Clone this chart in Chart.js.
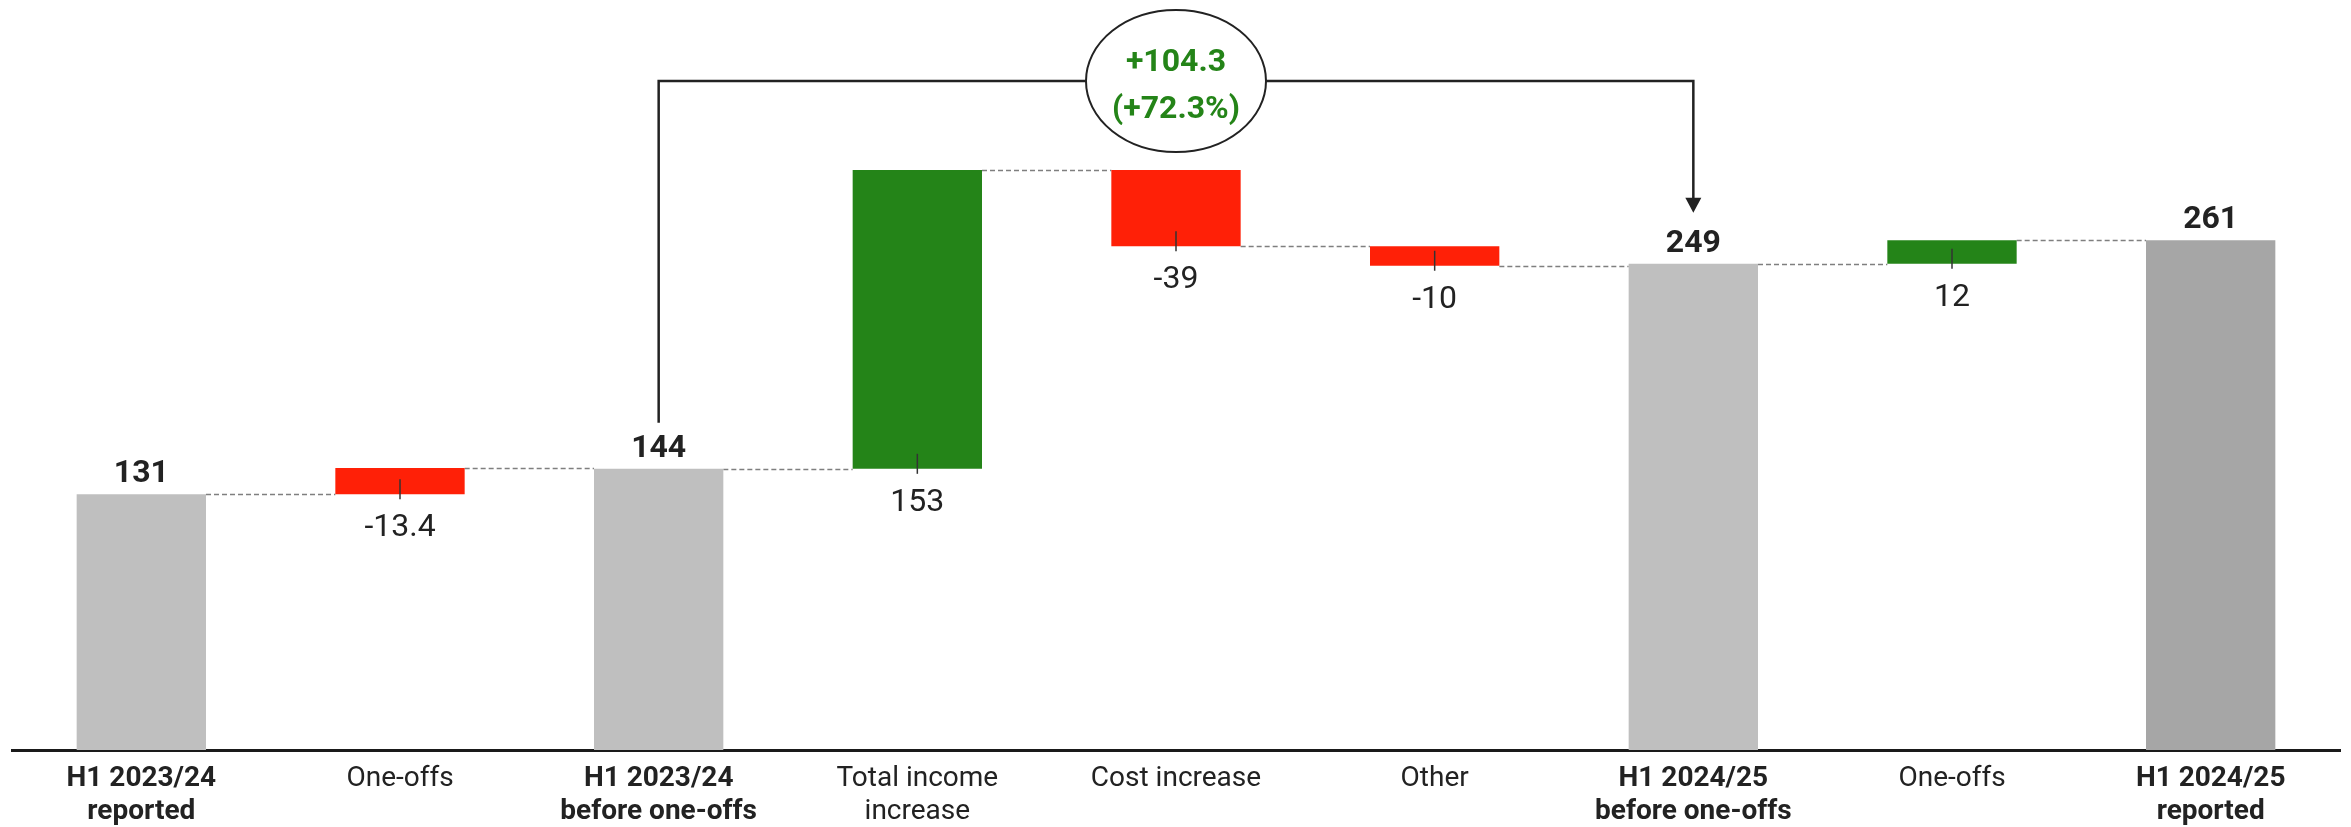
<!DOCTYPE html>
<html>
<head>
<meta charset="utf-8">
<script src="https://cdn.jsdelivr.net/npm/chart.js@4/dist/chart.umd.min.js"></script>
<style>
  html, body { margin: 0; padding: 0; background: #ffffff; }
  #wrap { width: 2351px; height: 827px; }
</style>
</head>
<body>
<div id="wrap"><canvas id="bridge" width="2351" height="827"></canvas></div>
<script>
// Bridge from H1 2023/24 to H1 2024/25
const categories = [
  ['H1 2023/24', 'reported'],
  'One-offs',
  ['H1 2023/24', 'before one-offs'],
  ['Total income', 'increase'],
  'Cost increase',
  'Other',
  ['H1 2024/25', 'before one-offs'],
  'One-offs',
  ['H1 2024/25', 'reported']
];
const barKinds = ['total', 'delta', 'total', 'delta', 'delta', 'delta', 'total', 'delta', 'total'];
const barValues = [131, -13.4, 144, 153, -39, -10, 249, 12, 261];
// the first one-offs are taken back out when going from "reported" to "before one-offs"
const reversesTotal = [false, true, false, false, false, false, false, false, false];
const bracketFrom = 2;
const bracketTo = 6;
const bracketText = ['+104.3', '(+72.3%)'];

const COLORS = {
  total: '#bfbfbf',
  finalTotal: '#a6a6a6',
  up: '#248418',
  down: '#ff2007',
  text: '#222222',
  connector: '#7f7f7f'
};
const FONT = 'Roboto, "Noto Sans", sans-serif';

// floating [start, end] ranges from a running total
let running = 0;
const ranges = barValues.map((v, i) => {
  if (barKinds[i] === 'total') { running = v; return [0, v]; }
  const start = running;
  running = start + (reversesTotal[i] ? -v : v);
  return [start, running];
});
const barColors = barValues.map((v, i) => {
  if (barKinds[i] === 'total') return i === barValues.length - 1 ? COLORS.finalTotal : COLORS.total;
  return v < 0 ? COLORS.down : COLORS.up;
});

const bridgePlugin = {
  id: 'bridgeDecor',
  beforeDatasetsDraw(chart) {
    const ctx = chart.ctx;
    const meta = chart.getDatasetMeta(0);
    const y = chart.scales.y;
    ctx.save();
    ctx.strokeStyle = COLORS.connector;
    ctx.lineWidth = 1.5;
    ctx.setLineDash([5, 3]);
    for (let i = 0; i < meta.data.length - 1; i++) {
      const a = meta.data[i], b = meta.data[i + 1];
      const py = Math.round(y.getPixelForValue(ranges[i][1])) + 0.5;
      ctx.beginPath();
      ctx.moveTo(a.x + a.width / 2, py);
      ctx.lineTo(b.x - b.width / 2, py);
      ctx.stroke();
    }
    ctx.restore();
  },
  afterDatasetsDraw(chart) {
    const ctx = chart.ctx;
    const meta = chart.getDatasetMeta(0);
    ctx.save();
    ctx.fillStyle = COLORS.text;
    ctx.textAlign = 'center';
    meta.data.forEach((el, i) => {
      const top = Math.min(el.y, el.base);
      const bottom = Math.max(el.y, el.base);
      ctx.fillStyle = COLORS.text;
      if (barKinds[i] === 'total') {
        ctx.font = 'bold 32px ' + FONT;
        ctx.textBaseline = 'alphabetic';
        ctx.fillText(String(barValues[i]), el.x, top - 12);
      } else {
        ctx.strokeStyle = '#333333';
        ctx.lineWidth = 1.5;
        ctx.setLineDash([]);
        ctx.beginPath();
        ctx.moveTo(el.x, bottom - 15);
        ctx.lineTo(el.x, bottom + 5);
        ctx.stroke();
        ctx.font = '32px ' + FONT;
        ctx.textBaseline = 'alphabetic';
        ctx.fillText(String(barValues[i]), el.x, bottom + 42);
      }
    });

    // bracket from one total to another with the change in an ellipse
    const from = meta.data[bracketFrom], to = meta.data[bracketTo];
    const by = chart.chartArea.top + 73;
    const fromTop = Math.min(from.y, from.base);
    const toTop = Math.min(to.y, to.base);
    ctx.strokeStyle = COLORS.text;
    ctx.lineWidth = 2.5;
    ctx.beginPath();
    ctx.moveTo(from.x, fromTop - 46);
    ctx.lineTo(from.x, by);
    ctx.lineTo(to.x, by);
    ctx.lineTo(to.x, toTop - 62);
    ctx.stroke();
    ctx.fillStyle = COLORS.text;
    ctx.beginPath();
    ctx.moveTo(to.x - 8, toTop - 66);
    ctx.lineTo(to.x + 8, toTop - 66);
    ctx.lineTo(to.x, toTop - 51);
    ctx.closePath();
    ctx.fill();

    const cx = (from.x + to.x) / 2;
    ctx.beginPath();
    ctx.ellipse(cx, by, 90, 71, 0, 0, Math.PI * 2);
    ctx.fillStyle = '#ffffff';
    ctx.fill();
    ctx.lineWidth = 2;
    ctx.stroke();
    ctx.fillStyle = COLORS.up;
    ctx.font = 'bold 32px ' + FONT;
    ctx.textBaseline = 'middle';
    ctx.fillText(bracketText[0], cx, by - 18);
    ctx.fillText(bracketText[1], cx, by + 29);
    ctx.restore();
  }
};

new Chart(document.getElementById('bridge'), {
  type: 'bar',
  data: {
    labels: categories,
    datasets: [{
      data: ranges,
      backgroundColor: barColors,
      borderWidth: 0,
      categoryPercentage: 1,
      barPercentage: 0.5
    }]
  },
  options: {
    responsive: false,
    devicePixelRatio: 1,
    animation: false,
    layout: { padding: { top: 8, left: 12, right: 11, bottom: 0 } },
    plugins: { legend: { display: false }, tooltip: { enabled: false } },
    scales: {
      x: {
        grid: { display: false, drawTicks: false },
        border: { display: true, color: '#1a1a1a', width: 3 },
        ticks: {
          color: COLORS.text,
          padding: 12,
          maxRotation: 0,
          autoSkip: false,
          font: (c) => ({
            family: FONT,
            size: 28,
            lineHeight: 1.2,
            weight: barKinds[c.index] === 'total' ? 'bold' : 'normal'
          })
        },
        afterFit: (scale) => { scale.height = 77; }
      },
      y: {
        display: false,
        min: 0,
        max: 380
      }
    }
  },
  plugins: [bridgePlugin]
});
</script>
</body>
</html>
